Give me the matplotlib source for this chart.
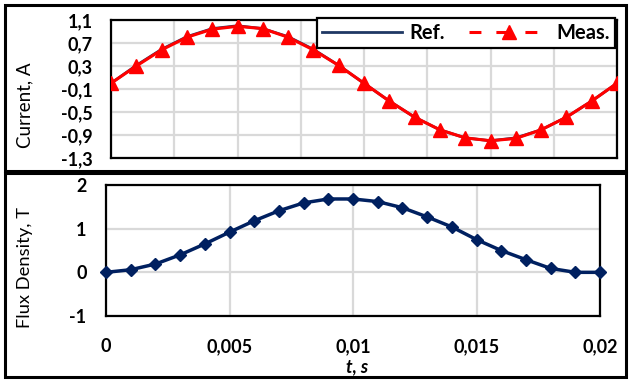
import matplotlib
matplotlib.use("Agg")
import matplotlib.pyplot as plt
from matplotlib.lines import Line2D
from matplotlib.patches import Rectangle

plt.rcParams['font.family'] = ['Lato', 'DejaVu Sans']

# time axis (s)
t = [0.000, 0.001, 0.002, 0.003, 0.004, 0.005, 0.006, 0.007, 0.008, 0.009, 0.010,
     0.011, 0.012, 0.013, 0.014, 0.015, 0.016, 0.017, 0.018, 0.019, 0.020]

# current, A
i_ref = [0.00, 0.31, 0.59, 0.81, 0.95, 1.00, 0.95, 0.81, 0.59, 0.31, 0.00,
         -0.31, -0.59, -0.81, -0.95, -1.00, -0.95, -0.81, -0.59, -0.31, 0.00]
i_meas = [0.00, 0.30, 0.58, 0.80, 0.94, 0.99, 0.95, 0.80, 0.58, 0.31, 0.00,
          -0.31, -0.59, -0.81, -0.95, -1.00, -0.96, -0.81, -0.59, -0.31, 0.00]

# flux density, T
b = [0.00, 0.06, 0.19, 0.40, 0.65, 0.92, 1.18, 1.41, 1.59, 1.68, 1.68,
     1.62, 1.48, 1.27, 1.04, 0.75, 0.50, 0.29, 0.09, 0.00, 0.00]

i_ticks = [-1.3, -0.9, -0.5, -0.1, 0.3, 0.7, 1.1]
i_labels = ['-1,3', '-0,9', '-0,5', '-0,1', '0,3', '0,7', '1,1']
b_ticks = [-1, 0, 1, 2]
b_labels = ['-1', '0', '1', '2']
t_ticks = [0, 0.005, 0.01, 0.015, 0.02]
t_labels = ['0', '0,005', '0,01', '0,015', '0,02']
t_grid = [0.0025 * k for k in range(9)]

W, H = 630, 381
NAVY = '#002060'
REF = '#1F3864'
RED = '#FF0000'
GRID = '#D9D9D9'
FS = 13


def px(left, top, right, bottom):
    return [left / W, 1 - bottom / H, (right - left) / W, (bottom - top) / H]


fig = plt.figure(figsize=(W / 100, H / 100), dpi=100)

# panel frames
for (x0, y0, x1, y1) in [(5, 5, 626, 171), (5, 173, 626, 377)]:
    fig.patches.append(Rectangle((x0 / W, 1 - y1 / H), (x1 - x0) / W, (y1 - y0) / H,
                                 transform=fig.transFigure, fill=False,
                                 ec='black', lw=2.2, zorder=0))

# ---- current ----
ax1 = fig.add_axes(px(111, 20, 617, 158))
ax1.plot(t, i_ref, color=REF, lw=2.0, zorder=3)
ax1.plot(t, i_meas, color=RED, lw=2.2, marker='^', ms=10, mec=RED, mfc=RED, zorder=4)
ax1.set_xlim(0, 0.02)
ax1.set_ylim(-1.3, 1.1)
ax1.set_xticks(t_grid)
ax1.set_xticklabels([])
ax1.set_yticks(i_ticks)
ax1.set_yticklabels(i_labels, fontweight='bold', fontsize=FS)
ax1.tick_params(length=0, pad=13)
ax1.tick_params(axis='x', pad=0)
ax1.grid(True, color=GRID, lw=1.6)
ax1.set_axisbelow(True)
for s in ax1.spines.values():
    s.set_linewidth(1.6)

h_ref = Line2D([], [], color=REF, lw=2.0)
h_meas = Line2D([], [], color=RED, lw=2.2, ls=(0, (3.9, 4.9, 4.6, 4.9)),
                marker='^', ms=10, mec=RED, mfc=RED)
leg = ax1.legend([h_ref, h_meas], ['Ref.', 'Meas.'], ncol=2,
                 loc='upper right', bbox_to_anchor=(615 / W, 1 - 18 / H),
                 bbox_transform=fig.transFigure, borderaxespad=0,
                 handlelength=4.0, columnspacing=1.2, handletextpad=0.35,
                 numpoints=1, fancybox=False, framealpha=1,
                 prop={'weight': 'bold', 'size': FS + 1.5},
                 borderpad=0.25)
leg.get_frame().set_edgecolor('black')
leg.get_frame().set_linewidth(1.6)

fig.text(25 / W, 1 - 105 / H, 'Current, A', rotation=90, ha='center', va='center',
         fontsize=13.5)

# ---- flux density ----
ax2 = fig.add_axes(px(106, 185, 600, 316))
ax2.plot(t, b, color=NAVY, lw=2.5, marker='D', ms=6.5, mec=NAVY, mfc=NAVY, zorder=3,
         clip_on=False)
ax2.set_xlim(0, 0.02)
ax2.set_ylim(-1, 2)
ax2.set_xticks(t_ticks)
ax2.set_xticklabels(t_labels, fontweight='bold', fontsize=FS)
ax2.set_yticks(b_ticks)
ax2.set_yticklabels(b_labels, fontweight='bold', fontsize=FS)
ax2.tick_params(length=0)
ax2.tick_params(axis='y', pad=14)
ax2.tick_params(axis='x', pad=16)
ax2.grid(True, color=GRID, lw=1.6)
ax2.set_axisbelow(True)
for s in ax2.spines.values():
    s.set_linewidth(1.6)

fig.text(25 / W, 1 - 267 / H, 'Flux Density, T', rotation=90, ha='center', va='center',
         fontsize=13.2)
fig.text(357 / W, 1 - 367 / H, 't, s', ha='center', va='center', fontsize=FS,
         fontweight='bold', fontstyle='italic')

fig.savefig('out.png', dpi=100)
